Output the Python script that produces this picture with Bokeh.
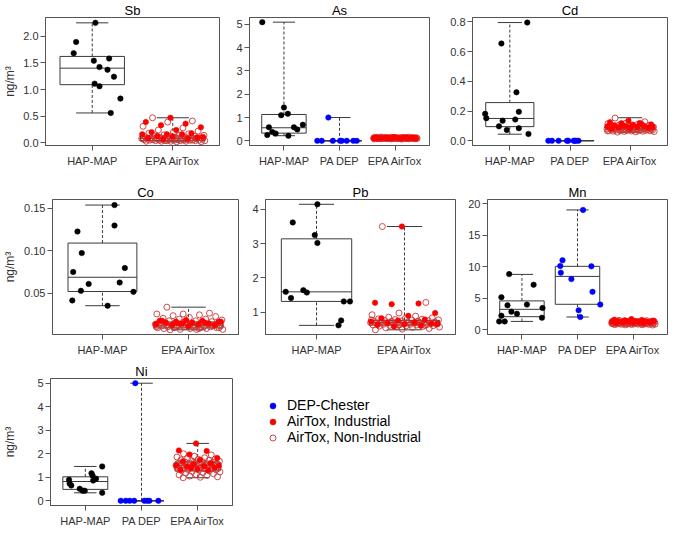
from bokeh.plotting import figure
from bokeh.layouts import column, row
from bokeh.models import (ColumnDataSource, FixedTicker, PrintfTickFormatter,
                          Range1d, Legend, LegendItem)
from bokeh.embed import file_html
from bokeh.resources import INLINE

# ------------------------------------------------------------------ data
CATS2 = ["HAP-MAP", "EPA AirTox"]
CATS3 = ["HAP-MAP", "PA DEP", "EPA AirTox"]

# Sb
SB_HAP = [2.25, 1.89, 1.68, 1.54, 1.58, 1.42, 1.37, 1.24, 1.11, 1.06, 0.83, 0.56]
SB_HAP_DX = [0.04, -0.20, -0.23, 0.02, 0.21, 0.09, 0.19, 0.27, 0.03, 0.09, 0.35, 0.23]
SB_IND = [0.47, 0.39, 0.36, 0.33, 0.29, 0.24, 0.20, 0.18, 0.16, 0.16, 0.16, 0.13,
          0.10, 0.12, 0.09, 0.08, 0.07, 0.11]
SB_NON = [0.47, 0.41, 0.39, 0.31, 0.28, 0.24, 0.22, 0.20, 0.18, 0.17, 0.15, 0.14,
          0.14, 0.13, 0.12, 0.12, 0.11, 0.11, 0.10, 0.10, 0.10, 0.09, 0.09, 0.09,
          0.08, 0.08, 0.08, 0.08, 0.07, 0.07, 0.07, 0.07, 0.07, 0.06, 0.06, 0.06,
          0.06, 0.06, 0.05, 0.05, 0.05, 0.05, 0.05, 0.05, 0.04, 0.04, 0.04, 0.04,
          0.04, 0.03, 0.03, 0.03, 0.03, 0.02, 0.02, 0.06, 0.05, 0.04, 0.08, 0.09]
SB_BOX_HAP = [0.56, 1.09, 1.40, 1.62, 2.25]
SB_BOX_EPA = [0.02, 0.045, 0.085, 0.13, 0.47]

# As
AS_HAP = [5.09, 1.43, 1.10, 1.16, 0.69, 0.58, 0.49, 0.58, 0.38, 0.31, 0.25, 0.22]
AS_HAP_DX = [-0.39, 0.0, -0.05, 0.07, 0.34, 0.18, 0.24, -0.27, -0.21, -0.15, -0.30, 0.08]
AS_DEP = [1.0, 0.0, 0.0, 0.0, 0.0, 0.0, 0.0, 0.0, 0.0]
AS_DEP_DX = [-0.2, -0.4, -0.32, -0.12, 0.01, 0.04, 0.13, 0.25, 0.31]
AS_IND = [0.16, 0.15, 0.14, 0.14, 0.13, 0.13, 0.12, 0.12, 0.11, 0.11, 0.10, 0.12,
          0.13, 0.15, 0.11, 0.14, 0.12, 0.10]
AS_NON = [0.16, 0.155, 0.15, 0.148, 0.145, 0.143, 0.14, 0.14, 0.138, 0.136, 0.135,
          0.134, 0.132, 0.13, 0.13, 0.128, 0.127, 0.126, 0.125, 0.124, 0.123, 0.122,
          0.121, 0.12, 0.12, 0.119, 0.118, 0.117, 0.116, 0.115, 0.114, 0.113, 0.112,
          0.111, 0.11, 0.11, 0.109, 0.108, 0.107, 0.106, 0.105, 0.104, 0.103, 0.102,
          0.101, 0.10, 0.099, 0.098, 0.097, 0.096, 0.095, 0.094, 0.093, 0.092, 0.09,
          0.088, 0.086, 0.084, 0.08, 0.075]
AS_BOX_HAP = [0.22, 0.33, 0.56, 1.13, 5.09]
AS_BOX_DEP = [0.0, 0.0, 0.0, 0.0, 1.0]
AS_BOX_EPA = [0.075, 0.105, 0.12, 0.13, 0.16]

# Cd
CD_HAP = [0.796, 0.655, 0.326, 0.181, 0.152, 0.195, 0.135, 0.143, 0.097, 0.073, 0.085, 0.046]
CD_HAP_DX = [0.29, -0.14, 0.11, -0.41, -0.39, 0.15, -0.12, 0.09, -0.18, -0.05, 0.15, 0.31]
CD_DEP = [0.0, 0.0, 0.0, 0.0, 0.0, 0.0, 0.0, 0.0, 0.0]
CD_DEP_DX = [-0.36, -0.3, -0.19, -0.03, 0.06, 0.1, 0.14, -0.05, 0.08]
CD_IND = [0.135, 0.125, 0.12, 0.118, 0.11, 0.108, 0.105, 0.10, 0.10, 0.098, 0.095,
          0.09, 0.088, 0.085, 0.08, 0.112, 0.102, 0.093]
CD_NON = [0.153, 0.128, 0.12, 0.115, 0.11, 0.107, 0.104, 0.10, 0.098, 0.096, 0.094,
          0.092, 0.09, 0.089, 0.088, 0.087, 0.086, 0.085, 0.084, 0.083, 0.082, 0.081,
          0.08, 0.08, 0.079, 0.078, 0.077, 0.076, 0.075, 0.075, 0.074, 0.073, 0.072,
          0.072, 0.071, 0.07, 0.07, 0.069, 0.068, 0.068, 0.067, 0.066, 0.065, 0.064,
          0.063, 0.062, 0.06, 0.058, 0.076, 0.081, 0.085, 0.09, 0.095, 0.078, 0.074,
          0.083, 0.087, 0.071, 0.066, 0.079]
CD_BOX_HAP = [0.044, 0.095, 0.150, 0.257, 0.796]
CD_BOX_DEP = [0.0, 0.0, 0.0, 0.0, 0.0]
CD_BOX_EPA = [0.058, 0.074, 0.085, 0.100, 0.155]

# Co
CO_HAP = [0.1535, 0.1295, 0.1225, 0.0973, 0.0752, 0.0798, 0.0612, 0.0628, 0.0531,
          0.0519, 0.0419, 0.0357]
CO_HAP_DX = [0.14, 0.14, -0.29, -0.24, -0.34, 0.26, -0.16, 0.20, -0.25, 0.36, -0.35, 0.06]
CO_IND = [0.019, 0.018, 0.018, 0.017, 0.017, 0.016, 0.016, 0.015, 0.015, 0.014,
          0.014, 0.013, 0.013, 0.012, 0.018, 0.016, 0.015, 0.017]
CO_NON = [0.034, 0.027, 0.026, 0.026, 0.025, 0.024, 0.023, 0.022, 0.021, 0.02, 0.02,
          0.019, 0.018, 0.018, 0.017, 0.017, 0.016, 0.016, 0.016, 0.015, 0.015,
          0.015, 0.014, 0.014, 0.014, 0.013, 0.013, 0.013, 0.013, 0.012, 0.012,
          0.012, 0.012, 0.011, 0.011, 0.011, 0.011, 0.01, 0.01, 0.01, 0.01, 0.009,
          0.009, 0.009, 0.008, 0.008, 0.008, 0.0075, 0.012, 0.013, 0.014, 0.015,
          0.011, 0.01, 0.012, 0.013, 0.014, 0.016, 0.011, 0.009]
CO_BOX_HAP = [0.0357, 0.0523, 0.069, 0.109, 0.1535]
CO_BOX_EPA = [0.0075, 0.0097, 0.0128, 0.0167, 0.034]

# Pb
PB_HAP = [4.15, 3.62, 3.25, 3.02, 1.59, 1.41, 1.64, 1.57, 1.31, 1.31, 0.755, 0.61]
PB_HAP_DX = [0.01, -0.27, -0.02, 0.01, -0.35, -0.29, -0.15, -0.11, 0.31, 0.38, 0.28, 0.25]
PB_IND = [3.5, 1.27, 1.25, 1.23, 0.97, 0.89, 0.82, 0.78, 0.75, 0.72, 0.70, 0.68,
          0.66, 0.64, 0.62, 0.60, 0.58, 0.65]
PB_NON = [3.5, 1.28, 0.97, 0.92, 0.88, 0.85, 0.83, 0.81, 0.80, 0.79, 0.78, 0.77,
          0.76, 0.75, 0.75, 0.74, 0.73, 0.73, 0.72, 0.71, 0.71, 0.70, 0.70, 0.69,
          0.69, 0.68, 0.68, 0.67, 0.67, 0.66, 0.66, 0.65, 0.65, 0.64, 0.64, 0.63,
          0.63, 0.62, 0.62, 0.61, 0.60, 0.60, 0.59, 0.58, 0.57, 0.56, 0.55, 0.54,
          0.52, 0.50, 0.48, 0.70, 0.72, 0.66, 0.68, 0.74, 0.61, 0.63, 0.77, 0.69]
PB_BOX_HAP = [0.61, 1.31, 1.59, 3.14, 4.15]
PB_BOX_EPA = [0.48, 0.62, 0.69, 0.755, 3.5]

# Mn
MN_HAP = [8.85, 7.15, 5.17, 3.89, 4.0, 3.47, 2.88, 2.56, 2.24, 1.92, 1.33, 1.33]
MN_HAP_DX = [-0.23, 0.21, -0.37, -0.26, 0.09, 0.37, -0.19, -0.09, -0.37, 0.36, -0.41, -0.31]
MN_DEP = [19.04, 11.04, 10.13, 10.08, 9.07, 8.05, 6.03, 4.0, 3.09, 2.03]
MN_DEP_DX = [0.10, -0.27, -0.31, 0.25, -0.30, -0.11, 0.27, 0.41, 0.02, 0.05]
MN_IND = [1.7, 1.6, 1.55, 1.5, 1.45, 1.4, 1.38, 1.35, 1.3, 1.28, 1.25, 1.2, 1.18,
          1.15, 1.1, 1.05, 1.32, 1.42]
MN_NON = [1.5, 1.45, 1.4, 1.38, 1.35, 1.32, 1.3, 1.28, 1.27, 1.25, 1.24, 1.22, 1.21,
          1.2, 1.19, 1.18, 1.17, 1.16, 1.15, 1.14, 1.13, 1.12, 1.11, 1.1, 1.1, 1.09,
          1.08, 1.07, 1.06, 1.05, 1.05, 1.04, 1.03, 1.02, 1.01, 1.0, 0.99, 0.98,
          0.97, 0.96, 0.95, 0.94, 0.93, 0.92, 0.91, 0.9, 0.89, 0.88, 0.86, 0.84,
          0.82, 0.8, 0.78, 0.75, 1.12, 1.08, 1.15, 1.02, 0.97, 1.2]
MN_BOX_HAP = [1.33, 2.08, 3.25, 4.59, 8.8]
MN_BOX_DEP = [2.03, 4.05, 8.48, 10.08, 19.04]
MN_BOX_EPA = [0.75, 0.95, 1.08, 1.22, 1.7]

# Ni
NI_HAP = [1.46, 1.17, 1.06, 0.94, 0.86, 0.90, 0.74, 0.65, 0.51, 0.43, 0.43, 0.34]
NI_HAP_DX = [0.30, 0.11, 0.13, 0.19, 0.14, -0.29, -0.28, -0.25, -0.10, -0.05, -0.01, 0.30]
NI_DEP = [5.0, 0.0, 0.0, 0.0, 0.0, 0.0, 0.0, 0.0, 0.0]
NI_DEP_DX = [-0.11, -0.37, -0.28, -0.21, -0.13, 0.05, 0.10, 0.14, 0.30]
NI_IND = [2.44, 2.14, 2.12, 1.97, 1.82, 1.75, 1.68, 1.6, 1.55, 1.51, 1.48, 1.45,
          1.40, 1.35, 1.31, 1.30, 1.38, 1.5]
NI_NON = [2.0, 1.95, 1.9, 1.86, 1.83, 1.8, 1.78, 1.76, 1.74, 1.72, 1.7, 1.68, 1.66,
          1.65, 1.64, 1.62, 1.6, 1.59, 1.58, 1.56, 1.55, 1.54, 1.53, 1.52, 1.51,
          1.5, 1.49, 1.48, 1.47, 1.46, 1.45, 1.44, 1.43, 1.42, 1.41, 1.4, 1.38,
          1.36, 1.35, 1.33, 1.32, 1.3, 1.29, 1.27, 1.25, 1.23, 1.2, 1.18, 1.15,
          1.12, 1.1, 1.08, 1.05, 1.02, 1.0, 0.98, 1.57, 1.63, 1.46, 1.37]
NI_BOX_HAP = [0.34, 0.485, 0.82, 1.02, 1.46]
NI_BOX_DEP = [0.0, 0.0, 0.0, 0.0, 5.0]
NI_BOX_EPA = [0.98, 1.27, 1.51, 1.65, 2.44]

LEGEND_LABELS = ["DEP-Chester", "AirTox, Industrial", "AirTox, Non-Industrial"]

# ------------------------------------------------------------------ style
FONT = "Liberation Sans"
LINE = "#3a3a3a"
FRAME = "#555555"
RED = "#FF0000"
OPEN_RED = "#C83737"
BLUE = "#0000FF"


def spread(n, phase):
    # deterministic horizontal spread of the dense groups (layout only)
    return [(((k + phase) * 0.6180339887) % 1.0 - 0.5) * 0.8 for k in range(n)]


def add_points(p, src, kind):
    if kind == "non":
        return p.scatter("x", "y", source=src, marker="circle", size=6,
                         fill_color=None, line_color=OPEN_RED, line_width=0.9)
    col = {"hap": "black", "dep": BLUE, "ind": RED}[kind]
    return p.scatter("x", "y", source=src, marker="circle", size=5.5,
                     fill_color=col, line_color=col, line_width=0.5)


def panel(title, cats, yr, yticks, yfmt, boxes, series, w, h, left, right,
          top, bottom, ylabel=None, ylabel_standoff=3):
    n = len(cats)
    p = figure(width=w, height=h, output_backend="svg", toolbar_location=None,
               x_range=Range1d(0.5 - 0.04 * n, n + 0.5 + 0.04 * n),
               y_range=Range1d(*yr),
               min_border_left=left, min_border_right=right,
               min_border_top=top, min_border_bottom=bottom)
    p.background_fill_color = "white"
    p.border_fill_color = "white"
    p.outline_line_color = FRAME
    p.outline_line_width = 1
    p.xgrid.visible = False
    p.ygrid.visible = False

    p.title.text = title
    p.title.align = "center"
    p.title.text_font = FONT
    p.title.text_font_size = "13px"
    p.title.text_font_style = "normal"
    p.title.text_color = "black"
    p.title.standoff = 0

    xs = list(range(1, n + 1))
    src = ColumnDataSource(dict(
        x=xs, l=[x - 0.4 for x in xs], r=[x + 0.4 for x in xs],
        cl=[x - 0.2 for x in xs], cr=[x + 0.2 for x in xs],
        lo=[b[0] for b in boxes], q1=[b[1] for b in boxes],
        med=[b[2] for b in boxes], q3=[b[3] for b in boxes],
        hi=[b[4] for b in boxes]))
    kw = dict(source=src, line_color=LINE, line_width=1)
    p.quad(left="l", right="r", bottom="q1", top="q3", fill_color=None, **kw)
    p.segment(x0="l", x1="r", y0="med", y1="med", **kw)
    p.segment(x0="x", x1="x", y0="q3", y1="hi", line_dash="3 2", **kw)
    p.segment(x0="x", x1="x", y0="lo", y1="q1", line_dash="3 2", **kw)
    p.segment(x0="cl", x1="cr", y0="hi", y1="hi", **kw)
    p.segment(x0="cl", x1="cr", y0="lo", y1="lo", **kw)

    sources = {}
    for cat, vals, dx, kind in series:
        s = ColumnDataSource(dict(x=[cat + d for d in dx], y=vals))
        add_points(p, s, kind)
        sources[kind] = s

    for ax in (p.xaxis[0], p.yaxis[0]):
        ax.axis_line_color = FRAME
        ax.major_tick_line_color = FRAME
        ax.major_tick_out = 5
        ax.major_tick_in = 0
        ax.minor_tick_line_color = None
        ax.major_label_text_font = FONT
        ax.major_label_text_font_size = "11px"
        ax.major_label_text_color = "#333333"
    p.xaxis.ticker = FixedTicker(ticks=xs)
    p.xaxis.major_label_overrides = {x: c for x, c in zip(xs, cats)}
    p.xaxis.major_label_standoff = 4
    p.xaxis.axis_label_standoff = 0
    p.yaxis.ticker = FixedTicker(ticks=yticks)
    p.yaxis.formatter = PrintfTickFormatter(format=yfmt)
    p.yaxis.major_label_standoff = 2
    if ylabel:
        p.yaxis.axis_label = ylabel
        p.yaxis.axis_label_text_font = FONT
        p.yaxis.axis_label_text_font_size = "12px"
        p.yaxis.axis_label_text_font_style = "normal"
        p.yaxis.axis_label_text_color = "#333333"
        p.yaxis.axis_label_standoff = ylabel_standoff
    return p, sources


def epa(cat, ind, non):
    return [(cat, non, spread(len(non), 0.3), "non"),
            (cat, ind, spread(len(ind), 0.75), "ind")]


H1, H2, H3 = 169, 189, 171
UNIT = "ng/m\u00b3"

sb, _ = panel("Sb", CATS2, (-0.05, 2.35), [0.0, 0.5, 1.0, 1.5, 2.0], "%.1f",
              [SB_BOX_HAP, SB_BOX_EPA],
              [(1, SB_HAP, SB_HAP_DX, "hap")] + epa(2, SB_IND, SB_NON),
              227, H1, 40, 8, 14, 22, ylabel=UNIT, ylabel_standoff=3)
as_, _ = panel("As", CATS3, (-0.2, 5.29), [0, 1, 2, 3, 4, 5], "%d",
               [AS_BOX_HAP, AS_BOX_DEP, AS_BOX_EPA],
               [(1, AS_HAP, AS_HAP_DX, "hap"), (2, AS_DEP, AS_DEP_DX, "dep")]
               + epa(3, AS_IND, AS_NON),
               220, H1, 22, 18, 14, 22)
cd, _ = panel("Cd", CATS3, (-0.032, 0.83), [0.0, 0.2, 0.4, 0.6, 0.8], "%.1f",
              [CD_BOX_HAP, CD_BOX_DEP, CD_BOX_EPA],
              [(1, CD_HAP, CD_HAP_DX, "hap"), (2, CD_DEP, CD_DEP_DX, "dep")]
              + epa(3, CD_IND, CD_NON),
              222, H1, 24, 2, 14, 22)

co, _ = panel("Co", CATS2, (0.002, 0.16), [0.05, 0.10, 0.15], "%.2f",
              [CO_BOX_HAP, CO_BOX_EPA],
              [(1, CO_HAP, CO_HAP_DX, "hap")] + epa(2, CO_IND, CO_NON),
              244, H2, 46, 6, 30, 22, ylabel=UNIT, ylabel_standoff=4)
pb, _ = panel("Pb", CATS2, (0.343, 4.29), [1, 2, 3, 4], "%d",
              [PB_BOX_HAP, PB_BOX_EPA],
              [(1, PB_HAP, PB_HAP_DX, "hap")] + epa(2, PB_IND, PB_NON),
              221, H2, 21, 10, 30, 22)
mn, _ = panel("Mn", CATS3, (-0.75, 20.7), [0, 5, 10, 15, 20], "%d",
              [MN_BOX_HAP, MN_BOX_DEP, MN_BOX_EPA],
              [(1, MN_HAP, MN_HAP_DX, "hap"), (2, MN_DEP, MN_DEP_DX, "dep")]
              + epa(3, MN_IND, MN_NON),
              204, H2, 20, 2, 30, 22)

ni, ni_src = panel("Ni", CATS3, (-0.2, 5.2), [0, 1, 2, 3, 4, 5], "%d",
                   [NI_BOX_HAP, NI_BOX_DEP, NI_BOX_EPA],
                   [(1, NI_HAP, NI_HAP_DX, "hap"), (2, NI_DEP, NI_DEP_DX, "dep")]
                   + epa(3, NI_IND, NI_NON),
                   242, H3, 44, 10, 20, 22, ylabel=UNIT, ylabel_standoff=17)

# legend panel: it re-uses the Ni point sources, but its ranges lie away
# from the data, so only the legend itself is visible
lg = figure(width=427, height=H3, output_backend="svg", toolbar_location=None,
            x_axis_type=None, y_axis_type=None,
            x_range=Range1d(-2, -1), y_range=Range1d(-2, -1),
            min_border_left=4, min_border_right=0, min_border_top=20,
            min_border_bottom=22)
lg.outline_line_color = None
lg.xgrid.visible = False
lg.ygrid.visible = False
r_dep = add_points(lg, ni_src["dep"], "dep")
r_ind = add_points(lg, ni_src["ind"], "ind")
r_non = add_points(lg, ni_src["non"], "non")
legend = Legend(items=[LegendItem(label=t, renderers=[r])
                       for t, r in zip(LEGEND_LABELS, [r_dep, r_ind, r_non])],
                location="top_left", margin=19, padding=15, spacing=0,
                glyph_width=15, glyph_height=15, label_height=16,
                label_standoff=7, border_line_color=None,
                background_fill_alpha=0)
legend.label_text_font = FONT
legend.label_text_font_size = "14px"
legend.label_text_color = "black"
lg.add_layout(legend)

layout = column(row(sb, as_, cd), row(co, pb, mn), row(ni, lg))

open("out.html", "w").write(file_html(layout, INLINE))
